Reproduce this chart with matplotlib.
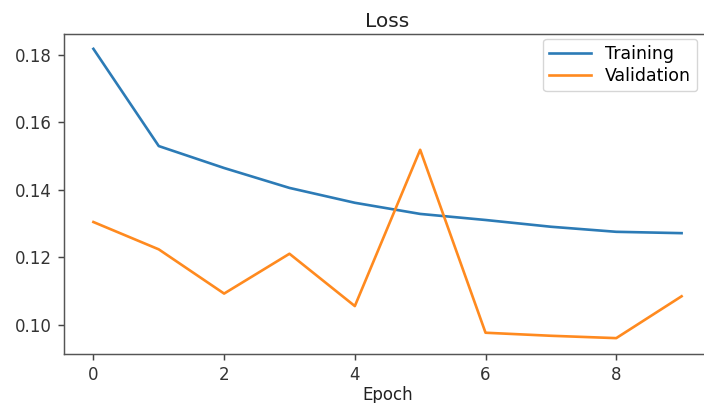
import numpy as np
import matplotlib
matplotlib.use('Agg')
import matplotlib.pyplot as plt

epochs = list(range(10))
train_loss = [0.1818, 0.1530, 0.1465, 0.1406, 0.1362, 0.1329, 0.1311, 0.1291, 0.1276, 0.1272]
val_loss = [0.1305, 0.1224, 0.1093, 0.1211, 0.1056, 0.1519, 0.0977, 0.0968, 0.0961, 0.1085]
yticks = [0.10, 0.12, 0.14, 0.16, 0.18]

plt.rcParams['font.size'] = 12
plt.rcParams['axes.linewidth'] = 1.05
plt.rcParams['xtick.major.size'] = 4.5
plt.rcParams['ytick.major.size'] = 4.5
plt.rcParams['xtick.major.width'] = 1.05
plt.rcParams['ytick.major.width'] = 1.05

fig = plt.figure(figsize=(7.04, 4.03), dpi=100)
# the original image is cropped on the right, so the axes run past the edge
ax = fig.add_axes([64 / 704, 1 - 354 / 403, (711 - 64) / 704, (354 - 34) / 403])

ax.plot(epochs, train_loss, label='Training', color='#2c7bb6', lw=1.9)
ax.plot(epochs, val_loss, label='Validation', color='#ff8a1f', lw=1.9)

ax.set_xlim(-0.45, 9.45)
ax.set_ylim(0.0914, 0.1862)
ax.set_xticks([0, 2, 4, 6, 8])
ax.set_yticks(yticks)
ax.set_yticklabels(['%.2f' % v for v in yticks])
ax.tick_params(colors='#444444', labelcolor='#333333', pad=4.5)
for s in ax.spines.values():
    s.set_color('#555555')

ax.set_title('Loss', fontsize=14.5, pad=5, color='#222222')
ax.set_xlabel('Epoch', labelpad=1, color='#222222')
ax.legend(loc='upper right', bbox_to_anchor=(697 / 704, 1 - 39 / 403),
          bbox_transform=fig.transFigure, borderaxespad=0, fontsize=12.5,
          labelspacing=0.25, handlelength=2.4, borderpad=0.35)

fig.savefig('out.png', dpi=100)
